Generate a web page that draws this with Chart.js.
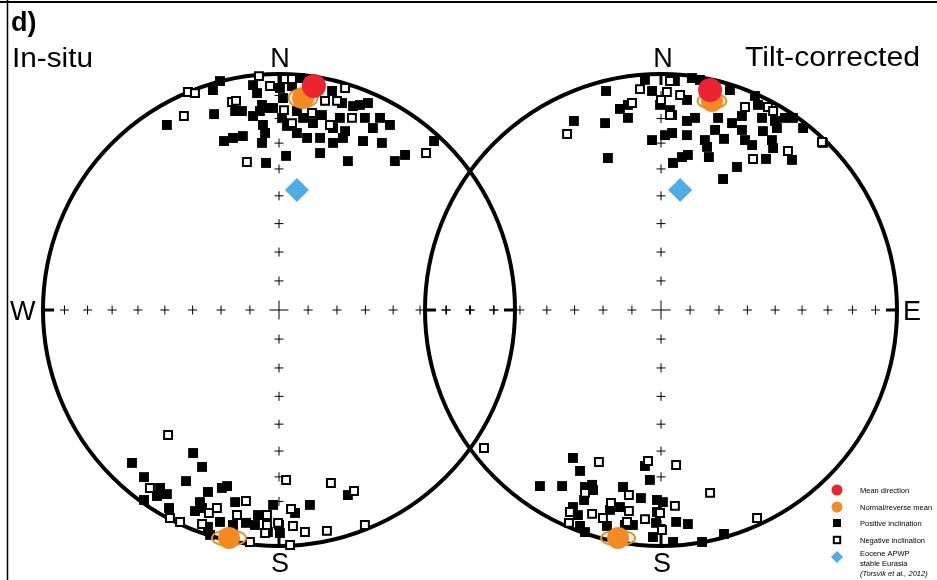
<!DOCTYPE html>
<html>
<head>
<meta charset="utf-8">
<script src="https://cdn.jsdelivr.net/npm/chart.js@4.4.0/dist/chart.umd.min.js"></script>
<style>
  html, body { margin: 0; padding: 0; background: #fff; }
  canvas { display: block; }
</style>
</head>
<body>
<canvas id="stereo" width="937" height="580"></canvas>
<script>
// equal-area net coordinates, net radius = 100 (x = east, y = north)
const inSituPositive = [
  [-47.5, 78.4], [-25.0, 97.0], [-28.0, 93.2], [-27.5, 83.0], [-23.3, 71.6], [-19.5, 72.9],
  [-15.3, 73.7], [-18.6, 84.3], [-15.7, 84.3], [-11.0, 95.3], [-9.3, 91.9], [-7.2, 86.9],
  [-5.1, 85.6], [-11.0, 82.2], [-8.1, 84.3], [-6.8, 78.4], [-5.9, 75.0], [-7.2, 70.8],
  [-5.5, 62.3], [3.0, 65.3], [-2.5, 85.6], [1.3, 81.4], [3.4, 78.0], [0.4, 94.1],
  [1.7, 89.8], [7.6, 84.3], [10.2, 81.4], [7.6, 75.0], [11.9, 72.9], [14.4, 79.2],
  [18.2, 82.6], [17.4, 72.9], [17.4, 66.5], [22.9, 70.8], [22.5, 92.8], [26.7, 87.7],
  [25.8, 81.4], [28.0, 75.8], [27.1, 72.9], [31.4, 86.4], [34.3, 86.9], [37.7, 87.7],
  [36.4, 81.4], [39.8, 77.1], [42.8, 81.4], [47.0, 78.4], [35.6, 71.6], [43.6, 70.8],
  [29.2, 63.1], [49.1, 63.1], [53.4, 65.7], [65.7, 71.6], [22.9, 77.1], [8.9, 98.3],
  [5.5, 94.9],
  [-62.3, -64.8], [-36.4, -60.6], [-32.6, -66.5], [-57.2, -70.8], [-39.4, -72.5], [-50.4, -75.4],
  [-47.5, -78.0], [-51.7, -78.8], [-57.2, -80.5], [-46.6, -83.9], [-30.1, -77.1], [-24.2, -75.4],
  [-22.0, -74.6], [-33.5, -81.4], [-35.6, -85.2], [-32.6, -83.9], [-18.6, -81.4], [-30.1, -91.9],
  [-29.2, -95.3], [-25.0, -89.8], [-19.5, -91.1], [-14.0, -90.2], [-10.2, -91.1], [-8.9, -86.9],
  [-2.5, -82.6], [6.8, -86.0], [13.1, -82.6], [0, -91.1], [0.4, -94.5], [29.2, -78.4],
  [-4.7, -94.1]
]
const inSituNegative = [
  [-38.6, 92.4], [-35.6, 91.9], [-40.3, 82.2], [-19.9, 88.1], [-18.2, 88.6], [-8.5, 99.1],
  [-3.8, 94.9], [2.5, 97.9], [5.5, 97.9], [2.1, 84.7], [5.5, 79.2], [14.0, 83.5],
  [19.5, 88.6], [24.6, 88.6], [28.0, 94.1], [30.9, 81.4], [21.6, 78.4], [-13.6, 62.7],
  [62.3, 66.5],
  [-47.0, -53.0], [-54.7, -75.4], [-46.2, -88.1], [-41.9, -89.8], [-26.3, -83.9], [-29.7, -86.0],
  [-32.6, -90.7], [-14.0, -80.9], [-17.8, -86.9], [-5.1, -86.9], [-5.1, -91.1], [-0.4, -90.2],
  [3.0, -72.0], [5.1, -84.3], [5.9, -91.5], [11.0, -94.1], [-5.9, -94.5], [22.0, -73.3],
  [31.8, -76.7], [20.3, -93.6], [36.4, -91.1], [4.7, -99.6], [-12.3, -98.3]
]
const tiltPositive = [
  [-36.9, 80.1], [-23.7, 79.2], [-23.3, 92.8], [-22.5, 64.4], [-17.4, 85.2], [-14.0, 81.4],
  [-14.0, 86.9], [-6.8, 97.5], [-3.8, 92.8], [-0.4, 86.9], [3.8, 84.7], [4.7, 82.6],
  [-3.8, 72.0], [1.7, 74.1], [4.7, 75.0], [5.1, 62.3], [8.9, 64.8], [11.4, 65.7],
  [11.0, 89.0], [11.0, 80.1], [11.0, 74.1], [14.4, 81.4], [13.1, 98.3], [5.9, 97.0],
  [18.6, 72.0], [19.5, 69.1], [20.3, 64.8], [22.9, 76.3], [24.2, 81.4], [26.7, 72.5],
  [29.2, 93.2], [30.1, 79.2], [32.2, 60.6], [26.3, 55.5], [34.3, 82.2], [34.3, 76.3],
  [35.6, 72.0], [38.6, 69.9], [39.8, 90.7], [41.1, 86.9], [42.8, 81.4], [43.2, 75.8],
  [47.0, 72.0], [47.5, 68.6], [48.3, 80.1], [49.1, 77.1], [52.5, 81.4], [55.9, 81.4],
  [60.2, 77.1], [44.5, 64.0], [55.5, 63.6], [68.6, 70.8], [16.5, 97.5],
  [-37.3, -62.7], [-34.3, -68.2], [-51.3, -74.6], [-41.9, -74.6], [-32.2, -75.0], [-29.2, -74.1],
  [-28.8, -76.3], [-32.6, -80.5], [-16.1, -75.0], [-8.5, -79.7], [-6.8, -66.1], [-4.7, -72.0],
  [-1.7, -80.5], [0.8, -81.4], [-37.3, -83.5], [-35.2, -86.9], [-21.6, -84.7], [-17.4, -83.5],
  [-1.7, -85.6], [-2.1, -90.2], [6.4, -89.8], [11.4, -90.7], [-34.3, -91.5], [-32.2, -94.1],
  [-22.9, -91.5], [-15.3, -91.1], [-11.9, -91.1], [-3.4, -96.2], [5.1, -98.3], [17.4, -98.3],
  [26.7, -94.9]
]
const tiltNegative = [
  [-39.8, 74.6], [-8.9, 93.6], [-12.3, 87.7], [3.8, 97.0], [2.5, 92.4], [0, 89.0],
  [8.1, 91.1], [3.8, 82.6], [35.6, 86.0], [45.3, 86.0], [47.5, 84.3], [39.0, 64.0],
  [53.8, 67.4], [68.2, 71.2],
  [-75.0, -58.5], [-26.3, -64.4], [-5.5, -64.0], [6.4, -65.7], [20.8, -77.5], [-13.6, -78.4],
  [5.9, -83.0], [-21.2, -81.8], [-13.6, -85.2], [-29.2, -86.4], [-38.6, -85.6], [-39.0, -90.2],
  [-32.2, -77.5], [-6.8, -88.6], [-0.4, -86.0], [0.4, -93.2], [-24.6, -88.1], [40.7, -88.1],
  [-14.4, -89.8]
]
const inSituMean = [[14.8, 94.9]]
const tiltMean = [[20.8, 93.2]]
// normal / reverse means: x, y, ellipse semi-axes
const inSituPolarity = [[10.2, 89.8, 6.1, 4.0], [-21.2, -96.6, 7.2, 3.4]]
const tiltPolarity = [[21.6, 88.6, 6.1, 3.2], [-18.2, -96.6, 7.2, 3.2]]
const inSituApwp = [[7.6, 50.8]]
const tiltApwp = [[8.1, 50.8]]
const gridInclinations = [10, 20, 30, 40, 50, 60, 70, 80]
const legendLabels = ['Mean direction', 'Normal/reverse mean', 'Positive inclination',
  'Negative inclination', 'Eocene APWP', 'stable Eurasia', '(Torsvik et al., 2012)']

const W = 937, H = 580
const NET_R = 100
const PX = 2.36
const LEFT_CX = 279, RIGHT_CX = 661, CY = 310
const RIGHT_OFF = (RIGHT_CX - LEFT_CX) / PX
const FONT = "'Liberation Sans', Arial, Helvetica, sans-serif"
const RED = '#EC2330', ORANGE = '#F38A22', BLUE = '#4FADE4'

const shift = (pts, dx) => pts.map(p => ({ x: p[0] + dx, y: p[1], a: p[2], b: p[3] }))
const both = (a, b) => shift(a, 0).concat(shift(b, RIGHT_OFF))

function text (ctx, s, x, y, font, align, width) {
  ctx.save()
  ctx.font = font
  ctx.fillStyle = '#000'
  ctx.textBaseline = 'alphabetic'
  const k = width ? width / ctx.measureText(s).width : 1
  ctx.translate(x, y)
  ctx.scale(k, 1)
  ctx.textAlign = align
  ctx.fillText(s, 0, 0)
  ctx.restore()
}

const netPlugin = {
  id: 'net',
  beforeDatasetsDraw (chart) {
    const ctx = chart.ctx, sx = chart.scales.x, sy = chart.scales.y
    const cy = sy.getPixelForValue(0)
    const r = sx.getPixelForValue(NET_R) - sx.getPixelForValue(0)
    const dirs = [[1, 0], [-1, 0], [0, 1], [0, -1]]
    for (const off of [0, RIGHT_OFF]) {
      const cx = sx.getPixelForValue(off)
      ctx.save()
      ctx.strokeStyle = '#000'
      ctx.lineWidth = 4
      ctx.beginPath()
      ctx.arc(cx, cy, r, 0, Math.PI * 2)
      ctx.stroke()
      ctx.lineWidth = 3
      ctx.beginPath()
      dirs.forEach(d => {
        ctx.moveTo(cx + d[0] * r, cy - d[1] * r)
        ctx.lineTo(cx + d[0] * (r - 11), cy - d[1] * (r - 11))
      })
      ctx.stroke()
      ctx.lineWidth = 1
      ctx.beginPath()
      const cross = (x, y, s) => {
        ctx.moveTo(x - s, y); ctx.lineTo(x + s, y)
        ctx.moveTo(x, y - s); ctx.lineTo(x, y + s)
      }
      cross(cx, cy, 9.5)
      gridInclinations.forEach(inc => {
        const rr = NET_R * Math.SQRT2 * Math.sin((90 - inc) / 2 * Math.PI / 180)
        const d = sx.getPixelForValue(off + rr) - cx
        dirs.forEach(u => cross(cx + u[0] * d, cy - u[1] * d, 4.5))
      })
      ctx.stroke()
      ctx.restore()
    }
  },
  beforeDatasetDraw (chart, args) {
    if (args.index !== 1) return
    const ctx = chart.ctx, sx = chart.scales.x, sy = chart.scales.y
    const k = sx.getPixelForValue(1) - sx.getPixelForValue(0)
    ctx.save()
    ctx.strokeStyle = ORANGE
    ctx.lineWidth = 2
    chart.data.datasets[1].data.forEach(p => {
      ctx.beginPath()
      ctx.ellipse(sx.getPixelForValue(p.x), sy.getPixelForValue(p.y), p.a * k, p.b * k, 0, 0, Math.PI * 2)
      ctx.stroke()
    })
    ctx.restore()
  },
  afterDraw (chart) {
    const ctx = chart.ctx
    // frame
    ctx.save()
    ctx.strokeStyle = '#000'
    ctx.lineWidth = 2
    ctx.beginPath(); ctx.moveTo(0, 2); ctx.lineTo(W, 2); ctx.stroke()
    ctx.lineWidth = 1.5
    ctx.beginPath(); ctx.moveTo(7.5, 0); ctx.lineTo(7.5, H); ctx.stroke()
    ctx.restore()

    const big = '27px ' + FONT
    text(ctx, 'd)', 11, 31, 'bold 27px ' + FONT, 'left')
    text(ctx, 'In-situ', 12, 67, big, 'left', 81)
    text(ctx, 'Tilt-corrected', 920, 66, big, 'right', 175)
    text(ctx, 'N', LEFT_CX + 1, 67, big, 'center')
    text(ctx, 'N', RIGHT_CX + 2, 67, big, 'center')
    text(ctx, 'S', LEFT_CX + 1, 572, big, 'center')
    text(ctx, 'S', RIGHT_CX + 1, 572, big, 'center')
    text(ctx, 'W', 10, 320, big, 'left')
    text(ctx, 'E', 903, 320, big, 'left')

    // legend
    const lx = 837, tx = 860
    const rows = [490, 507, 523, 540, 557]
    ctx.save()
    ctx.fillStyle = RED
    ctx.beginPath(); ctx.arc(lx, rows[0], 5.5, 0, Math.PI * 2); ctx.fill()
    ctx.fillStyle = ORANGE
    ctx.beginPath(); ctx.arc(lx, rows[1], 5.5, 0, Math.PI * 2); ctx.fill()
    ctx.fillStyle = '#000'
    ctx.fillRect(lx - 4, rows[2] - 4, 8, 8)
    ctx.strokeStyle = '#000'
    ctx.lineWidth = 2
    ctx.strokeRect(lx - 3.2, rows[3] - 3.2, 6.4, 6.4)
    ctx.fillStyle = BLUE
    ctx.beginPath()
    ctx.moveTo(lx, rows[4] - 6); ctx.lineTo(lx + 6, rows[4]); ctx.lineTo(lx, rows[4] + 6); ctx.lineTo(lx - 6, rows[4])
    ctx.closePath(); ctx.fill()
    ctx.restore()
    const small = '7.5px ' + FONT
    text(ctx, legendLabels[0], tx, rows[0] + 3, small, 'left')
    text(ctx, legendLabels[1], tx, rows[1] + 3, small, 'left')
    text(ctx, legendLabels[2], tx, rows[2] + 3, small, 'left')
    text(ctx, legendLabels[3], tx, rows[3] + 3, small, 'left')
    text(ctx, legendLabels[4], tx, 556, small, 'left')
    text(ctx, legendLabels[5], tx, 566, small, 'left')
    text(ctx, legendLabels[6], tx, 576, 'italic ' + small, 'left')
  }
}

let stereo = new Chart(document.querySelector('#stereo'), {
  type: 'scatter',
  plugins: [netPlugin],
  data: {
    datasets: [
      {
        label: 'Mean direction',
        data: both(inSituMean, tiltMean),
        pointStyle: 'circle',
        pointRadius: 12,
        backgroundColor: RED,
        borderWidth: 0
      },
      {
        label: 'Normal/reverse mean',
        data: both(inSituPolarity, tiltPolarity),
        pointStyle: 'circle',
        pointRadius: 11,
        backgroundColor: ORANGE,
        borderWidth: 0
      },
      {
        label: 'Eocene APWP stable Eurasia',
        data: both(inSituApwp, tiltApwp),
        pointStyle: 'rectRot',
        pointRadius: 12,
        backgroundColor: BLUE,
        borderWidth: 0
      },
      {
        label: 'Negative inclination',
        data: both(inSituNegative, tiltNegative),
        pointStyle: 'rect',
        pointRadius: 5.6,
        backgroundColor: '#fff',
        borderColor: '#000',
        borderWidth: 2
      },
      {
        label: 'Positive inclination',
        data: both(inSituPositive, tiltPositive),
        pointStyle: 'rect',
        pointRadius: 7,
        backgroundColor: '#000',
        borderWidth: 0
      }
    ]
  },
  options: {
    responsive: false,
    animation: false,
    events: [],
    layout: { padding: 0, autoPadding: false },
    scales: {
      x: { type: 'linear', display: false, min: -LEFT_CX / PX, max: (W - LEFT_CX) / PX },
      y: { type: 'linear', display: false, min: -(H - CY) / PX, max: CY / PX }
    },
    plugins: {
      legend: { display: false },
      tooltip: { enabled: false }
    }
  }
})
</script>
</body>
</html>
